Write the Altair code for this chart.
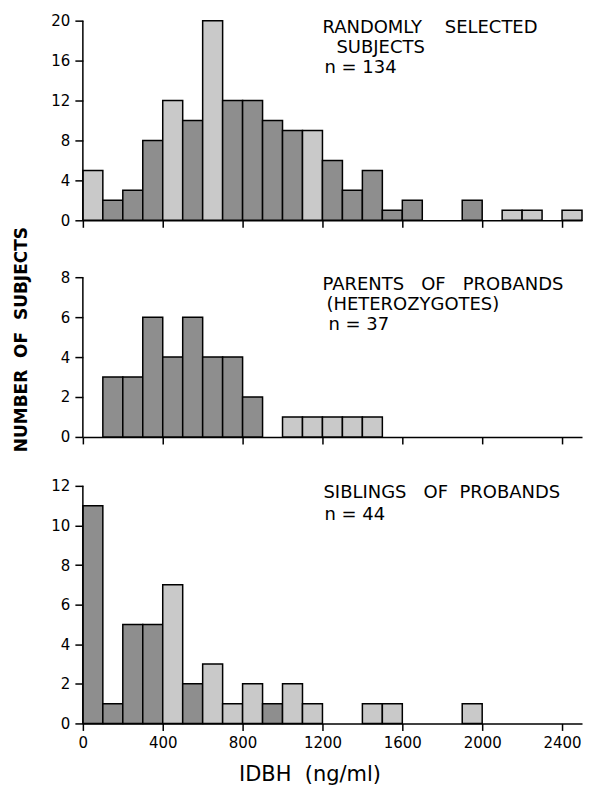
import altair as alt
import pandas as pd

FONT = "DejaVu Sans"
NB = "\u00a0"

# ---- data (bins of 100 ng/ml, 0-2500) ----
bin_start = list(range(0, 2500, 100))
random_counts = [5, 2, 3, 8, 12, 10, 20, 12, 12, 10, 9, 9, 6, 3, 5, 1, 2, 0, 0, 2, 0, 1, 1, 0, 1]
parents_counts = [0, 3, 3, 6, 4, 6, 4, 4, 2, 0, 1, 1, 1, 1, 1, 0, 0, 0, 0, 0, 0, 0, 0, 0, 0]
siblings_counts = [11, 1, 5, 5, 7, 2, 3, 1, 2, 1, 2, 1, 0, 0, 1, 1, 0, 0, 0, 1, 0, 0, 0, 0, 0]

random_tones = ["L", "D", "D", "D", "L", "D", "L", "D", "D", "D", "D", "L", "D",
                "D", "D", "D", "D", "D", "D", "D", "D", "L", "L", "D", "L"]
parents_tones = ["D"] * 10 + ["L"] * 5 + ["D"] * 10
siblings_tones = ["D", "D", "D", "D", "L", "D", "L", "L", "L", "D", "L", "L", "D",
                  "D", "L", "L", "D", "D", "D", "L", "D", "D", "D", "D", "D"]

x_ticks = [0, 400, 800, 1200, 1600, 2000, 2400]
random_yticks = [0, 4, 8, 12, 16, 20]
parents_yticks = [0, 2, 4, 6, 8]
siblings_yticks = [0, 2, 4, 6, 8, 10, 12]

random_notes = ["RANDOMLY" + NB * 4 + "SELECTED", "SUBJECTS", "n = 134"]
random_note_x = [1200, 1270, 1210]
random_note_y = [18.8, 16.8, 14.8]

parents_notes = ["PARENTS" + NB * 3 + "OF" + NB * 3 + "PROBANDS", "(HETEROZYGOTES)", "n = 37"]
parents_note_x = [1200, 1220, 1230]
parents_note_y = [7.35, 6.35, 5.35]

siblings_notes = ["SIBLINGS" + NB * 3 + "OF" + NB * 2 + "PROBANDS", "n = 44"]
siblings_note_x = [1205, 1210]
siblings_note_y = [11.4, 10.3]

tone_domain = ["L", "D"]
tone_range = ["#c9c9c9", "#8e8e8e"]


def panel(counts, tones, notes, nx, ny, yticks, ytop, height,
          show_x_labels=False, x_title=None, y_title=None):
    df = pd.DataFrame({
        "start": bin_start,
        "end": [b + 100 for b in bin_start],
        "count": counts,
        "base": [0] * len(bin_start),
        "tone": tones,
    })
    df = df[df["count"] > 0]
    notes_df = pd.DataFrame({"x": nx, "y": ny, "text": notes})
    ymax = max(yticks)
    axis_df = pd.DataFrame({"lo": [0], "hi": [ymax]})

    xscale = alt.Scale(domain=[0, 2500], nice=False, zero=False)
    yscale = alt.Scale(domain=[0, ytop], nice=False)

    xaxis_kw = dict(
        values=x_ticks, labels=show_x_labels, tickSize=7, tickColor="black",
        tickWidth=1.5, domainColor="black", domainWidth=1.5, grid=False,
        labelFont=FONT, labelFontSize=15, labelColor="black", labelPadding=5,
        labelFlush=False, format="d",
    )
    if x_title:
        xaxis_kw.update(title=x_title, titleFont=FONT, titleFontSize=21,
                        titleFontWeight="normal", titleColor="black",
                        titleX=227, titleAlign="center", titlePadding=13)
    else:
        xaxis_kw.update(title=None)
    xaxis = alt.Axis(**xaxis_kw)

    yaxis_kw = dict(
        values=yticks, domain=False, tickSize=8, tickColor="black",
        tickWidth=1.5, grid=False, labelFont=FONT, labelFontSize=15,
        labelColor="black", labelPadding=5, format="d",
    )
    if y_title:
        yaxis_kw.update(title=y_title, titleFont=FONT, titleFontSize=17,
                        titleFontWeight="bold", titleColor="black",
                        titleAngle=270, titleX=-61, titleY=70,
                        titleAlign="center", titleBaseline="middle")
    else:
        yaxis_kw.update(title=None)
    yaxis = alt.Axis(**yaxis_kw)

    bars = alt.Chart(df).mark_bar(stroke="black", strokeWidth=1.5).encode(
        x=alt.X("start:Q", scale=xscale, axis=xaxis),
        x2="end:Q",
        y=alt.Y("count:Q", scale=yscale, axis=yaxis),
        y2="base:Q",
        fill=alt.Fill("tone:N", scale=alt.Scale(domain=tone_domain, range=tone_range), legend=None),
    )
    yline = alt.Chart(axis_df).mark_rule(color="black", strokeWidth=1.5).encode(
        x=alt.value(0),
        y=alt.Y("lo:Q", scale=yscale, axis=yaxis),
        y2="hi:Q",
    )
    text = alt.Chart(notes_df).mark_text(
        align="left", baseline="alphabetic", font=FONT, fontSize=18, color="black"
    ).encode(
        x=alt.X("x:Q", scale=xscale, axis=xaxis),
        y=alt.Y("y:Q", scale=yscale, axis=yaxis),
        text="text:N",
    )
    return alt.layer(bars, yline, text).properties(width=500, height=height)


top = panel(random_counts, random_tones, random_notes, random_note_x, random_note_y,
            random_yticks, 20, 200)
mid = panel(parents_counts, parents_tones, parents_notes, parents_note_x, parents_note_y,
            parents_yticks, 8.4, 168, y_title="NUMBER" + NB * 2 + "OF" + NB * 2 + "SUBJECTS")
bot = panel(siblings_counts, siblings_tones, siblings_notes, siblings_note_x, siblings_note_y,
            siblings_yticks, 12, 238, show_x_labels=True, x_title="IDBH" + NB * 2 + "(ng/ml)")

chart = alt.vconcat(top, mid, bot, spacing=49, bounds="flush").properties(
    padding={"left": 5, "top": 5, "right": 5, "bottom": 0},
    background="white",
).configure_view(stroke=None)

chart.save("out.html", embed_options={"renderer": "svg", "actions": False})
